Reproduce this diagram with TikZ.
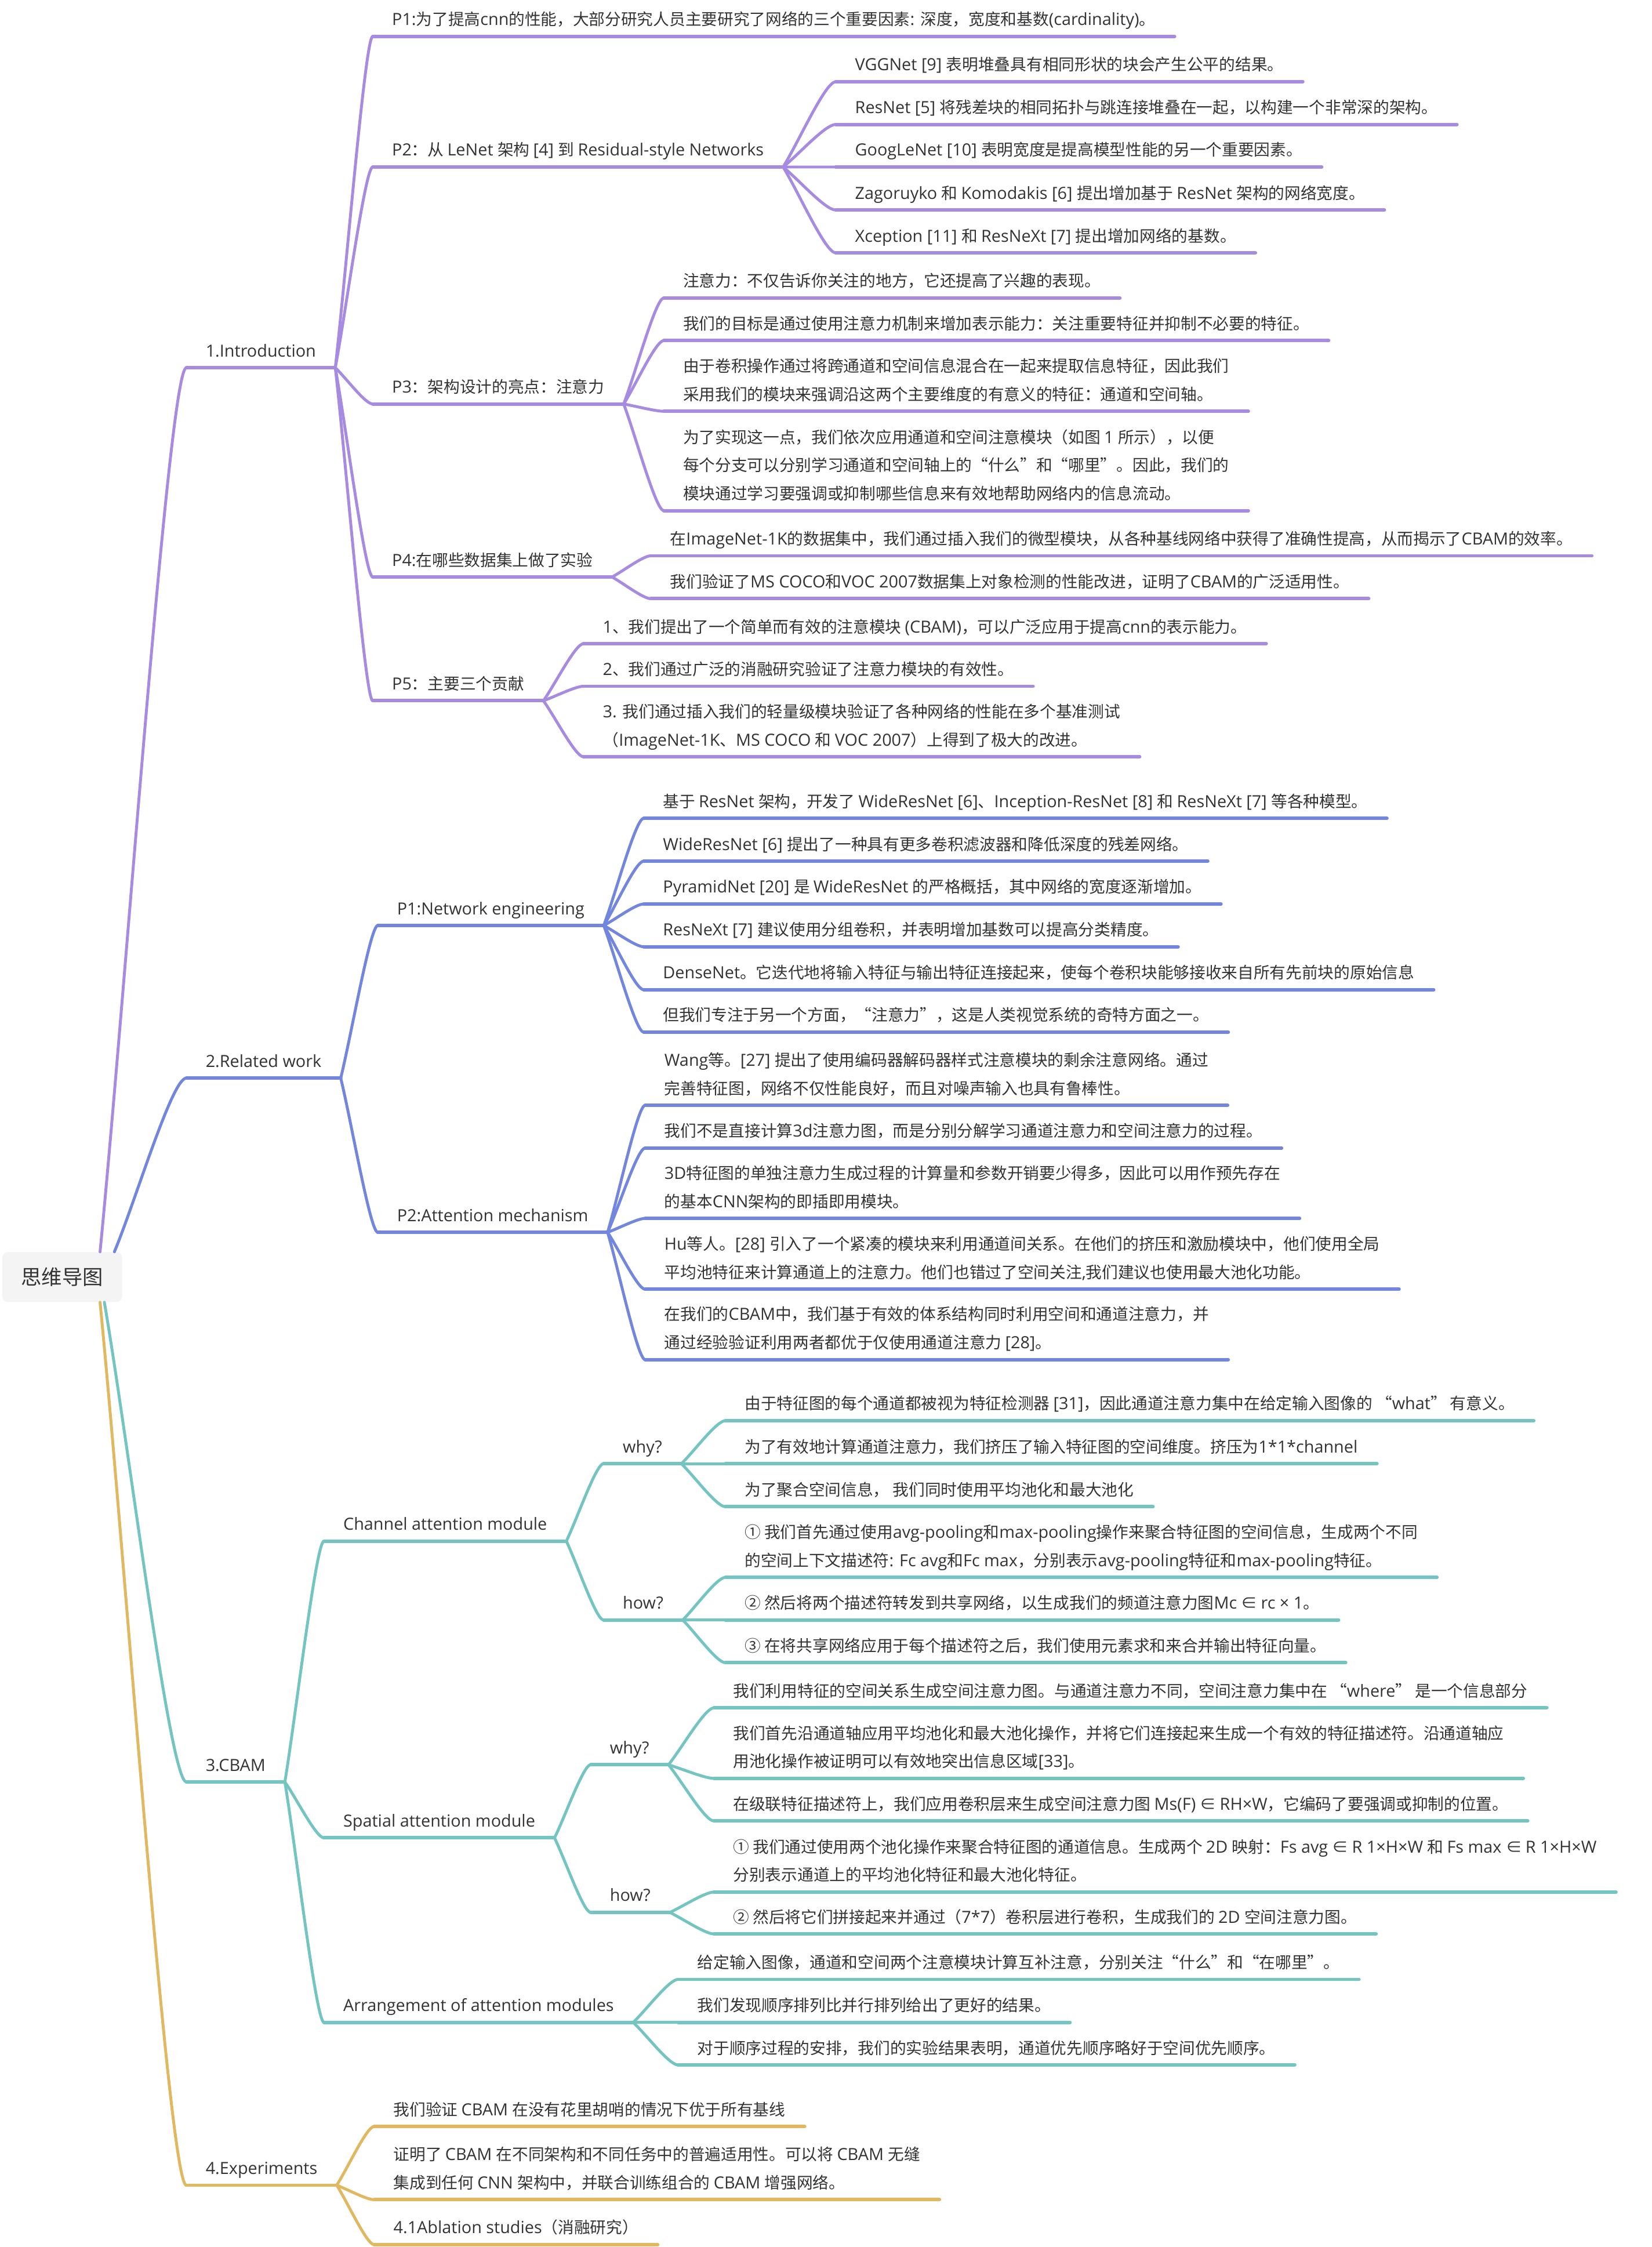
\documentclass[tikz,border=0pt]{standalone}
\usepackage{fontspec}
\setmainfont{Open Sans}[Scale=1.04]
\newfontfamily\cjkf{Noto Sans CJK SC}
\newfontfamily\latf{Open Sans}[Scale=1.04]
\XeTeXinterchartokenstate=1
\newXeTeXintercharclass\CJKcls
\newcount\mmcnt
\mmcnt="2E80
\loop \XeTeXcharclass\mmcnt=\CJKcls \ifnum\mmcnt<"9FFF \advance\mmcnt by 1 \repeat
\mmcnt="FF00
\loop \XeTeXcharclass\mmcnt=\CJKcls \ifnum\mmcnt<"FFEF \advance\mmcnt by 1 \repeat
\mmcnt="2460
\loop \XeTeXcharclass\mmcnt=\CJKcls \ifnum\mmcnt<"2473 \advance\mmcnt by 1 \repeat
\XeTeXcharclass"201C=\CJKcls
\XeTeXcharclass"201D=\CJKcls
\XeTeXcharclass"2208=\CJKcls
\XeTeXinterchartoks 0 \CJKcls = {\cjkf}
\XeTeXinterchartoks 4095 \CJKcls = {\cjkf}
\XeTeXinterchartoks \CJKcls 0 = {\latf}
\XeTeXinterchartoks 4095 0 = {\latf}
\usetikzlibrary{calc}
\definecolor{cPur}{HTML}{A68BE0}
\definecolor{cBlu}{HTML}{7186DC}
\definecolor{cTea}{HTML}{74C4C2}
\definecolor{cYel}{HTML}{DFB85F}
\definecolor{txt}{HTML}{333333}
\definecolor{rootfill}{HTML}{F4F4F4}
\newcommand\mmstrut{\vrule width0pt height8pt depth3.4pt}
\newcommand\mmlink[3]{\draw[#1] let \p1=(#2), \p2=(#3) in (\p1) .. controls ($(\p1)!0.3!(\p2)$) and ({\x1+0.8*(\x2-\x1)},\y2) .. (\p2);}
\newcommand\mmtopic[6]{%
  \node[topic] (#1) at (#3,#4) {#6};
  \mmlink{#2}{#5}{#1.south west}
  \draw[#2, line width=2.4pt] (#1.south west) -- (#1.south east);
}
\begin{document}
\begin{tikzpicture}[x=1pt,y=-1pt,
  topic/.style={anchor=south west, inner xsep=13.5pt, inner ysep=4.3pt, outer sep=0pt, align=left, font=\fontsize{11.2}{19.7}\selectfont, text=txt, execute at end node=\mmstrut},
  lnP/.style={draw=cPur, line width=2pt, line cap=round},
  lnB/.style={draw=cBlu, line width=2pt, line cap=round},
  lnT/.style={draw=cTea, line width=2pt, line cap=round},
  lnY/.style={draw=cYel, line width=2pt, line cap=round},
  rootbox/.style={fill=rootfill, rounded corners=4pt, minimum width=83.6pt, minimum height=34.8pt, inner sep=0pt, font=\fontsize{14.3}{17}\selectfont, text=txt}]
\fill[white] (0,0) rectangle (1152,1567.4);
\useasboundingbox (0,0) rectangle (1152,1567.4);
% root
\node[rootbox] (root) at (43.4,890.8) {思维导图};
\coordinate (rP) at ($(root.north west)+(68.4,0)$);
\coordinate (rB) at ($(root.north west)+(78.4,0)$);
\coordinate (rT) at ($(root.south west)+(71.4,0)$);
\coordinate (rY) at ($(root.south west)+(68.4,0)$);
% ---------- 1. Introduction
\mmtopic{intro}{lnP}{130}{256.5}{rP}{1.Introduction}
\mmtopic{i1}{lnP}{260}{25.4}{intro.south east}{P1:为了提高cnn的性能，大部分研究人员主要研究了网络的三个重要因素: 深度，宽度和基数(cardinality)。}
\mmtopic{i2}{lnP}{260}{116.5}{intro.south east}{P2：从 LeNet 架构 [4] 到 Residual-style Networks}
\mmtopic{i2a}{lnP}{583}{57}{i2.south east}{VGGNet [9] 表明堆叠具有相同形状的块会产生公平的结果。}
\mmtopic{i2b}{lnP}{583}{86.8}{i2.south east}{ResNet [5] 将残差块的相同拓扑与跳连接堆叠在一起，以构建一个非常深的架构。}
\mmtopic{i2c}{lnP}{583}{116.5}{i2.south east}{GoogLeNet [10] 表明宽度是提高模型性能的另一个重要因素。}
\mmtopic{i2d}{lnP}{583}{146.5}{i2.south east}{Zagoruyko 和 Komodakis [6] 提出增加基于 ResNet 架构的网络宽度。}
\mmtopic{i2e}{lnP}{583}{176.4}{i2.south east}{Xception [11] 和 ResNeXt [7] 提出增加网络的基数。}
\mmtopic{i3}{lnP}{260}{281.8}{intro.south east}{P3：架构设计的亮点：注意力}
\mmtopic{i3a}{lnP}{463}{207.9}{i3.south east}{注意力：不仅告诉你关注的地方，它还提高了兴趣的表现。}
\mmtopic{i3b}{lnP}{463}{237.6}{i3.south east}{我们的目标是通过使用注意力机制来增加表示能力：关注重要特征并抑制不必要的特征。}
\mmtopic{i3c}{lnP}{463}{286.9}{i3.south east}{由于卷积操作通过将跨通道和空间信息混合在一起来提取信息特征，因此我们\\采用我们的模块来强调沿这两个主要维度的有意义的特征：通道和空间轴。}
\mmtopic{i3d}{lnP}{463}{356.2}{i3.south east}{为了实现这一点，我们依次应用通道和空间注意模块（如图 1 所示），以便\\每个分支可以分别学习通道和空间轴上的“什么”和“哪里”。因此，我们的\\模块通过学习要强调或抑制哪些信息来有效地帮助网络内的信息流动。}
\mmtopic{i4}{lnP}{260}{402.5}{intro.south east}{P4:在哪些数据集上做了实验}
\mmtopic{i4a}{lnP}{454}{387.7}{i4.south east}{在ImageNet-1K的数据集中，我们通过插入我们的微型模块，从各种基线网络中获得了准确性提高，从而揭示了CBAM的效率。}
\mmtopic{i4b}{lnP}{454}{417.6}{i4.south east}{我们验证了MS COCO和VOC 2007数据集上对象检测的性能改进，证明了CBAM的广泛适用性。}
\mmtopic{i5}{lnP}{260}{488.8}{intro.south east}{P5：主要三个贡献}
\mmtopic{i5a}{lnP}{407}{449}{i5.south east}{1、我们提出了一个简单而有效的注意模块 (CBAM)，可以广泛应用于提高cnn的表示能力。}
\mmtopic{i5b}{lnP}{407}{478.7}{i5.south east}{2、我们通过广泛的消融研究验证了注意力模块的有效性。}
\mmtopic{i5c}{lnP}{407}{527.9}{i5.south east}{3. 我们通过插入我们的轻量级模块验证了各种网络的性能在多个基准测试\\（ImageNet-1K、MS COCO 和 VOC 2007）上得到了极大的改进。}
% ---------- 2. Related work
\mmtopic{rel}{lnB}{130}{752}{rB}{2.Related work}
\mmtopic{r1}{lnB}{263.5}{645.6}{rel.south east}{P1:Network engineering}
\mmtopic{r1a}{lnB}{449}{570.8}{r1.south east}{基于 ResNet 架构，开发了 WideResNet [6]、Inception-ResNet [8] 和 ResNeXt [7] 等各种模型。}
\mmtopic{r1b}{lnB}{449}{600.7}{r1.south east}{WideResNet [6] 提出了一种具有更多卷积滤波器和降低深度的残差网络。}
\mmtopic{r1c}{lnB}{449}{630.6}{r1.south east}{PyramidNet [20] 是 WideResNet 的严格概括，其中网络的宽度逐渐增加。}
\mmtopic{r1d}{lnB}{449}{660.4}{r1.south east}{ResNeXt [7] 建议使用分组卷积，并表明增加基数可以提高分类精度。}
\mmtopic{r1e}{lnB}{449}{690.4}{r1.south east}{DenseNet。它迭代地将输入特征与输出特征连接起来，使每个卷积块能够接收来自所有先前块的原始信息}
\mmtopic{r1f}{lnB}{449}{720}{r1.south east}{但我们专注于另一个方面，“注意力”，这是人类视觉系统的奇特方面之一。}
\mmtopic{r2}{lnB}{263.5}{859.6}{rel.south east}{P2:Attention mechanism}
\mmtopic{r2a}{lnB}{450}{771}{r2.south east}{Wang等。[27] 提出了使用编码器解码器样式注意模块的剩余注意网络。通过\\完善特征图，网络不仅性能良好，而且对噪声输入也具有鲁棒性。}
\mmtopic{r2b}{lnB}{450}{800.8}{r2.south east}{我们不是直接计算3d注意力图，而是分别分解学习通道注意力和空间注意力的过程。}
\mmtopic{r2c}{lnB}{450}{849.9}{r2.south east}{3D特征图的单独注意力生成过程的计算量和参数开销要少得多，因此可以用作预先存在\\的基本CNN架构的即插即用模块。}
\mmtopic{r2d}{lnB}{450}{899.3}{r2.south east}{Hu等人。[28] 引入了一个紧凑的模块来利用通道间关系。在他们的挤压和激励模块中，他们使用全局\\平均池特征来计算通道上的注意力。他们也错过了空间关注,我们建议也使用最大池化功能。}
\mmtopic{r2e}{lnB}{450}{948.4}{r2.south east}{在我们的CBAM中，我们基于有效的体系结构同时利用空间和通道注意力，并\\通过经验验证利用两者都优于仅使用通道注意力 [28]。}
% ---------- 3. CBAM
\mmtopic{cbam}{lnT}{130}{1243}{rT}{3.CBAM}
\mmtopic{c1}{lnT}{226}{1075}{cbam.south east}{Channel attention module}
\mmtopic{c1w}{lnT}{421}{1021}{c1.south east}{why?}
\mmtopic{c1wa}{lnT}{506}{991}{c1w.south east}{由于特征图的每个通道都被视为特征检测器 [31]，因此通道注意力集中在给定输入图像的 “what” 有意义。}
\mmtopic{c1wb}{lnT}{506}{1021}{c1w.south east}{为了有效地计算通道注意力，我们挤压了输入特征图的空间维度。挤压为1*1*channel}
\mmtopic{c1wc}{lnT}{506}{1051}{c1w.south east}{为了聚合空间信息， 我们同时使用平均池化和最大池化}
\mmtopic{c1h}{lnT}{421}{1130}{c1.south east}{how?}
\mmtopic{c1ha}{lnT}{506}{1100.3}{c1h.south east}{① 我们首先通过使用avg-pooling和max-pooling操作来聚合特征图的空间信息，生成两个不同\\的空间上下文描述符: Fc avg和Fc max，分别表示avg-pooling特征和max-pooling特征。}
\mmtopic{c1hb}{lnT}{506}{1130}{c1h.south east}{② 然后将两个描述符转发到共享网络，以生成我们的频道注意力图Mc ∈ rc × 1。}
\mmtopic{c1hc}{lnT}{506}{1159.8}{c1h.south east}{③ 在将共享网络应用于每个描述符之后，我们使用元素求和来合并输出特征向量。}
\mmtopic{c2}{lnT}{226}{1282}{cbam.south east}{Spatial attention module}
\mmtopic{c2w}{lnT}{412}{1231}{c2.south east}{why?}
\mmtopic{c2wa}{lnT}{498}{1191.3}{c2w.south east}{我们利用特征的空间关系生成空间注意力图。与通道注意力不同，空间注意力集中在 “where” 是一个信息部分}
\mmtopic{c2wb}{lnT}{498}{1240.5}{c2w.south east}{我们首先沿通道轴应用平均池化和最大池化操作，并将它们连接起来生成一个有效的特征描述符。沿通道轴应\\用池化操作被证明可以有效地突出信息区域[33]。}
\mmtopic{c2wc}{lnT}{498}{1270.2}{c2w.south east}{在级联特征描述符上，我们应用卷积层来生成空间注意力图 Ms(F) ∈ RH×W，它编码了要强调或抑制的位置。}
\mmtopic{c2h}{lnT}{412}{1334}{c2.south east}{how?}
\mmtopic{c2ha}{lnT}{498}{1319.8}{c2h.south east}{① 我们通过使用两个池化操作来聚合特征图的通道信息。生成两个 2D 映射：Fs avg ∈ R 1×H×W 和 Fs max ∈ R 1×H×W\\分别表示通道上的平均池化特征和最大池化特征。}
\mmtopic{c2hb}{lnT}{498}{1349}{c2h.south east}{② 然后将它们拼接起来并通过（7*7）卷积层进行卷积，生成我们的 2D 空间注意力图。}
\mmtopic{c3}{lnT}{226}{1410.7}{cbam.south east}{Arrangement of attention modules}
\mmtopic{c3a}{lnT}{473}{1380.7}{c3.south east}{给定输入图像，通道和空间两个注意模块计算互补注意，分别关注“什么”和“在哪里”。}
\mmtopic{c3b}{lnT}{473}{1410.7}{c3.south east}{我们发现顺序排列比并行排列给出了更好的结果。}
\mmtopic{c3c}{lnT}{473}{1440.4}{c3.south east}{对于顺序过程的安排，我们的实验结果表明，通道优先顺序略好于空间优先顺序。}
% ---------- 4. Experiments
\mmtopic{exp}{lnY}{130}{1524.3}{rY}{4.Experiments}
\mmtopic{e1}{lnY}{261}{1483.3}{exp.south east}{我们验证 CBAM 在没有花里胡哨的情况下优于所有基线}
\mmtopic{e2}{lnY}{261}{1534.4}{exp.south east}{证明了 CBAM 在不同架构和不同任务中的普遍适用性。可以将 CBAM 无缝\\集成到任何 CNN 架构中，并联合训练组合的 CBAM 增强网络。}
\mmtopic{e3}{lnY}{261}{1565.7}{exp.south east}{4.1Ablation studies（消融研究）}
\end{tikzpicture}
\end{document}
